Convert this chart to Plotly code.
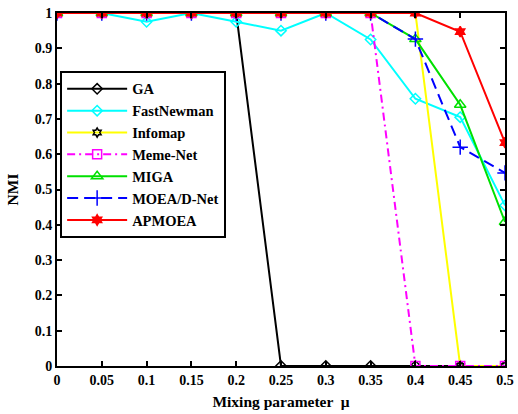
import plotly.graph_objects as go

mu = [0, 0.05, 0.1, 0.15, 0.2, 0.25, 0.3, 0.35, 0.4, 0.45, 0.5]
ga = [1, 1, 1, 1, 1, 0, 0, 0, 0, 0, 0]
fastnewman = [1, 1, 0.975, 1, 0.975, 0.95, 1, 0.925, 0.757, 0.705, 0.455]
infomap = [1, 1, 1, 1, 1, 1, 1, 1, 1, 0, 0]
memenet = [1, 1, 1, 1, 1, 1, 1, 1, 0, 0, 0]
miga = [1, 1, 1, 1, 1, 1, 1, 1, 0.926, 0.74, 0.408]
moead = [1, 1, 1, 1, 1, 1, 1, 1, 0.926, 0.62, 0.547]
apmoea = [1, 1, 1, 1, 1, 1, 1, 1, 1, 0.947, 0.633]

xticks = [0, 0.05, 0.1, 0.15, 0.2, 0.25, 0.3, 0.35, 0.4, 0.45, 0.5]
xticklabels = ["0", "0.05", "0.1", "0.15", "0.2", "0.25", "0.3", "0.35", "0.4", "0.45", "0.5"]
yticks = [0, 0.1, 0.2, 0.3, 0.4, 0.5, 0.6, 0.7, 0.8, 0.9, 1]
yticklabels = ["0", "0.1", "0.2", "0.3", "0.4", "0.5", "0.6", "0.7", "0.8", "0.9", "1"]

series = [
    ("GA", ga, "black", "solid", "diamond-open", 8),
    ("FastNewman", fastnewman, "cyan", "solid", "diamond-open", 8),
    ("Infomap", infomap, "yellow", "solid", "hexagram-open", 7),
    ("Meme-Net", memenet, "magenta", "8px,4px,2px,4px", "square-open", 9),
    ("MIGA", miga, "#00e000", "solid", "triangle-up-open", 10),
    ("MOEA/D-Net", moead, "blue", "11px,6px", "cross-thin-open", 11),
    ("APMOEA", apmoea, "red", "solid", "hexagram", 8),
]

fig = go.Figure()
for name, vals, color, dash, sym, sz in series:
    mline = dict(color="black" if name == "Infomap" else color, width=1.5)
    mcolor = "black" if name == "Infomap" else color
    fig.add_trace(go.Scatter(
        x=mu, y=vals, name=name, mode="lines+markers",
        line=dict(color=color, width=2, dash=dash),
        marker=dict(symbol=sym, size=sz, color=mcolor, line=mline),
    ))

serif = "Liberation Serif"
fig.update_layout(
    width=518, height=414,
    margin=dict(l=57, r=13, t=13, b=48, autoexpand=False),
    plot_bgcolor="white", paper_bgcolor="white",
    font=dict(family=serif, size=14, color="black", weight="bold"),
    showlegend=True,
    legend=dict(
        x=0.007, y=0.836, xanchor="left", yanchor="top",
        bgcolor="white", bordercolor="black", borderwidth=2,
        font=dict(family=serif, size=14.5, color="black", weight="bold"),
        itemwidth=60, tracegroupgap=0,
    ),
)
fig.update_xaxes(
    range=[0, 0.5], tickvals=xticks, ticktext=xticklabels,
    ticks="inside", ticklen=5, tickwidth=2, tickcolor="black",
    showline=True, linecolor="black", linewidth=2, mirror="ticks",
    showgrid=False, zeroline=False, automargin=False,
    tickfont=dict(family=serif, size=14, weight="bold"),
    title=dict(text="Mixing parameter  μ", font=dict(family=serif, size=15.5, weight="bold"), standoff=9),
)
fig.update_yaxes(
    range=[0, 1], tickvals=yticks, ticktext=yticklabels,
    ticks="inside", ticklen=5, tickwidth=2, tickcolor="black",
    showline=True, linecolor="black", linewidth=2, mirror="ticks",
    showgrid=False, zeroline=False, automargin=False,
    tickfont=dict(family=serif, size=14, weight="bold"),
    title=dict(text="NMI", font=dict(family=serif, size=15.5, weight="bold"), standoff=12),
)

fig.write_html("out.html")
